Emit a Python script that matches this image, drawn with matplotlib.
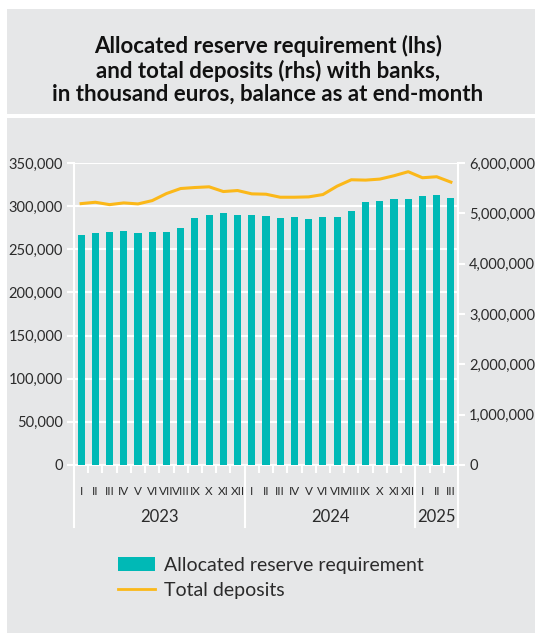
import matplotlib
matplotlib.use("Agg")
import matplotlib.pyplot as plt
from matplotlib.patches import Rectangle
from matplotlib.lines import Line2D
from matplotlib.ticker import FuncFormatter

plt.rcParams['font.family'] = ['Lato', 'DejaVu Sans']

# data
months = ["I", "II", "III", "IV", "V", "VI", "VII", "VIII", "IX", "X", "XI", "XII",
          "I", "II", "III", "IV", "V", "VI", "VII", "VIII", "IX", "X", "XI", "XII",
          "I", "II", "III"]
years = ["2023", "2024", "2025"]
months_per_year = [12, 12, 3]
reserve = [266300, 268600, 269800, 270900, 269000, 269800, 270500, 275200, 286000,
           289500, 291900, 290300, 289900, 288000, 286000, 287200, 285300, 287200,
           287200, 294600, 304300, 305400, 307800, 308100, 311600, 312400, 308900]
deposits = [5193000, 5220000, 5173000, 5207000, 5187000, 5253000, 5393000, 5493000,
            5513000, 5527000, 5433000, 5453000, 5387000, 5380000, 5320000, 5320000,
            5327000, 5373000, 5540000, 5667000, 5660000, 5680000, 5747000, 5827000,
            5707000, 5727000, 5620000]

BG = "#e6e7e8"
TEAL = "#00b9b6"
ORANGE = "#fbb819"
TXT = "#2b2b2b"

fig = plt.figure(figsize=(5.35, 6.34), dpi=100)
fig.patch.set_facecolor("white")
W, H = 535, 634
# title box and chart panel
fig.patches.append(Rectangle((7 / W, 1 - 114 / H), 1, 105 / H, transform=fig.transFigure,
                             facecolor=BG, edgecolor="none", zorder=-10))
fig.patches.append(Rectangle((7 / W, 1 - 633 / H), 1, 515 / H, transform=fig.transFigure,
                             facecolor=BG, edgecolor="none", zorder=-10))

fig.text(268 / W, 1 - 70 / H,
         "Allocated reserve requirement (lhs)\nand total deposits (rhs) with banks,\nin thousand euros, balance as at end-month",
         ha="center", va="center", fontsize=16, fontweight="bold", color="#111111",
         linespacing=1.12)

ax = fig.add_axes([74 / W, 169 / H, 384 / W, 302 / H])
ax.set_facecolor("none")
x = list(range(len(reserve)))
ax.bar(x, reserve, width=0.5, color=TEAL, zorder=3)
ax.set_xlim(-0.5, len(reserve) - 0.5)
ax.set_ylim(0, 350000)
ax.set_yticks(range(0, 350001, 50000))
ax.yaxis.set_major_formatter(FuncFormatter(lambda v, p: f"{int(v):,}"))
ax.grid(axis="y", color="white", linewidth=1.5, zorder=1)
ax.spines["top"].set_visible(False)
for s in ["left", "right", "bottom"]:
    ax.spines[s].set_color("white")
    ax.spines[s].set_linewidth(1.5)
ax.tick_params(axis="y", colors="white", length=5, width=1.5, labelcolor=TXT,
               labelsize=10.5, pad=3)

ax.set_xticks(x)
ax.set_xticklabels(months, fontsize=8.5, color=TXT)
ax.set_xticks([i + 0.5 for i in x[:-1]], minor=True)
ax.tick_params(axis="x", which="major", length=0, pad=15)
ax.tick_params(axis="x", which="minor", colors="white", length=6, width=1.5)

ax2 = ax.twinx()
ax2.plot(x, deposits, color=ORANGE, linewidth=2.2, zorder=4)
ax2.set_ylim(0, 6000000)
ax2.set_yticks(range(0, 6000001, 1000000))
ax2.yaxis.set_major_formatter(FuncFormatter(lambda v, p: f"{int(v):,}"))
for s in ["top", "left", "bottom", "right"]:
    ax2.spines[s].set_visible(False)
ax2.tick_params(axis="y", colors="white", length=5, width=1.5, labelcolor=TXT,
                labelsize=10.5, pad=3)

# year separators and labels
trans = ax.get_xaxis_transform()
bounds = [-0.5]
for n in months_per_year:
    bounds.append(bounds[-1] + n)
for b in bounds:
    ax.plot([b, b], [0, -62 / 302], transform=trans, color="white", linewidth=1.5,
            clip_on=False, zorder=5)
for yr, a, b in zip(years, bounds[:-1], bounds[1:]):
    ax.text((a + b) / 2, -52 / 302, yr, transform=trans, ha="center", va="center",
            fontsize=12, color=TXT)

handles = [Rectangle((0, 0), 1, 1, facecolor=TEAL, edgecolor="none"),
           Line2D([], [], color=ORANGE, linewidth=2)]
fig.legend(handles, ["Allocated reserve requirement", "Total deposits"],
           loc="upper left", bbox_to_anchor=(100 / W, 1 - 539 / H), frameon=False,
           fontsize=14, handlelength=1.95, handleheight=0.7, labelspacing=0.45,
           handletextpad=0.45, labelcolor=TXT)

fig.savefig("out.png", dpi=100, facecolor=fig.get_facecolor())
